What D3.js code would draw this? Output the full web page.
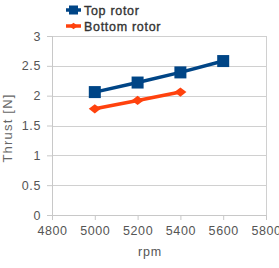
<!DOCTYPE html>
<html>
<head>
<meta charset="utf-8">
<script src="https://cdn.jsdelivr.net/npm/d3@7"></script>
<style>
body { margin: 0; background: #fff; }
text { font-family: "Liberation Sans", Arial, sans-serif; }
</style>
</head>
<body>
<svg width="279" height="268"></svg>
<script>
var rpmTop = [5000, 5200, 5400, 5600];
var thrustTop = [2.06, 2.22, 2.39, 2.58];
var rpmBottom = [5000, 5200, 5400];
var thrustBottom = [1.78, 1.92, 2.06];
var xTicks = [4800, 5000, 5200, 5400, 5600, 5800];
var yTicks = [0, 0.5, 1, 1.5, 2, 2.5, 3];

var svg = d3.select("svg");
var plotL = 52, plotR = 266, plotT = 36, plotB = 215;

var x = d3.scaleLinear().domain([4800, 5800]).range([plotL, plotR]);
var y = d3.scaleLinear().domain([0, 3]).range([plotB, plotT]);

// grid
svg.append("g").selectAll("line")
  .data(yTicks.slice(1))
  .enter().append("line")
  .attr("x1", plotL).attr("x2", plotR)
  .attr("y1", function(d) { return Math.round(y(d)) + 0.5; })
  .attr("y2", function(d) { return Math.round(y(d)) + 0.5; })
  .attr("stroke", "#d0d0d0");

svg.append("line")
  .attr("x1", plotR + 0.5).attr("x2", plotR + 0.5)
  .attr("y1", plotT).attr("y2", plotB)
  .attr("stroke", "#d0d0d0");

var xAxis = svg.append("g")
  .attr("transform", "translate(0," + plotB + ")")
  .call(d3.axisBottom(x).tickValues(xTicks).tickSize(5).tickPadding(6).tickFormat(d3.format("d")));
var yAxis = svg.append("g")
  .attr("transform", "translate(" + plotL + ",0)")
  .call(d3.axisLeft(y).tickValues(yTicks).tickSize(5).tickPadding(6).tickFormat(function(d) { return d; }));

[xAxis, yAxis].forEach(function(a) {
  a.select(".domain").attr("stroke", "#c8c8c8");
  a.selectAll(".tick line").attr("stroke", "#c8c8c8");
  a.selectAll("text").attr("fill", "#555").style("font-size", "12.5px")
    .style("font-family", "'Liberation Sans', Arial, sans-serif").style("letter-spacing", "0.6px");
});
yAxis.select(".domain").attr("d", "M0.5," + plotT + "V" + (plotB + 0.5));

svg.append("text")
  .attr("x", 150).attr("y", 256)
  .attr("text-anchor", "middle").attr("fill", "#555")
  .style("font-size", "12.5px").style("letter-spacing", "0.8px")
  .text("rpm");

svg.append("text")
  .attr("transform", "translate(12,128) rotate(-90)")
  .attr("text-anchor", "middle").attr("fill", "#666")
  .style("font-size", "13px").style("letter-spacing", "1.2px")
  .text("Thrust [N]");

var line = d3.line()
  .x(function(d) { return x(d[0]); })
  .y(function(d) { return y(d[1]); });

var topData = d3.zip(rpmTop, thrustTop);
var botData = d3.zip(rpmBottom, thrustBottom);

svg.append("path").datum(topData).attr("d", line)
  .attr("fill", "none").attr("stroke", "#004586").attr("stroke-width", 3.5);
svg.selectAll(".sq").data(topData).enter().append("rect")
  .attr("x", function(d) { return x(d[0]) - 6; })
  .attr("y", function(d) { return y(d[1]) - 6; })
  .attr("width", 12).attr("height", 12)
  .attr("fill", "#004586");

svg.append("path").datum(botData).attr("d", line)
  .attr("fill", "none").attr("stroke", "#ff420e").attr("stroke-width", 3.5);
svg.selectAll(".dm").data(botData).enter().append("path")
  .attr("d", d3.symbol().type(d3.symbolSquare).size(60))
  .attr("transform", function(d) { return "translate(" + x(d[0]) + "," + y(d[1]) + ") scale(1.1,0.85) rotate(45)"; })
  .attr("fill", "#ff420e");

// legend
var legend = [
  { name: "Top rotor", color: "#004586", y: 10, marker: "sq" },
  { name: "Bottom rotor", color: "#ff420e", y: 26, marker: "dm" }
];
var lg = svg.append("g");
legend.forEach(function(l) {
  lg.append("line").attr("x1", 66).attr("x2", 81).attr("y1", l.y).attr("y2", l.y)
    .attr("stroke", l.color).attr("stroke-width", 3.5);
  if (l.marker === "sq") {
    lg.append("rect").attr("x", 69).attr("y", l.y - 4.5).attr("width", 9).attr("height", 9).attr("fill", l.color);
  } else {
    lg.append("path").attr("d", d3.symbol().type(d3.symbolSquare).size(30))
      .attr("transform", "translate(73.5," + l.y + ") scale(1.1,0.85) rotate(45)")
      .attr("fill", l.color);
  }
  lg.append("text").attr("x", 84).attr("y", l.y + 4.5)
    .attr("fill", "#333").attr("stroke", "#333").attr("stroke-width", 0.35)
    .style("font-size", "12.5px")
    .style("letter-spacing", "0.7px")
    .text(l.name);
});
</script>
</body>
</html>
